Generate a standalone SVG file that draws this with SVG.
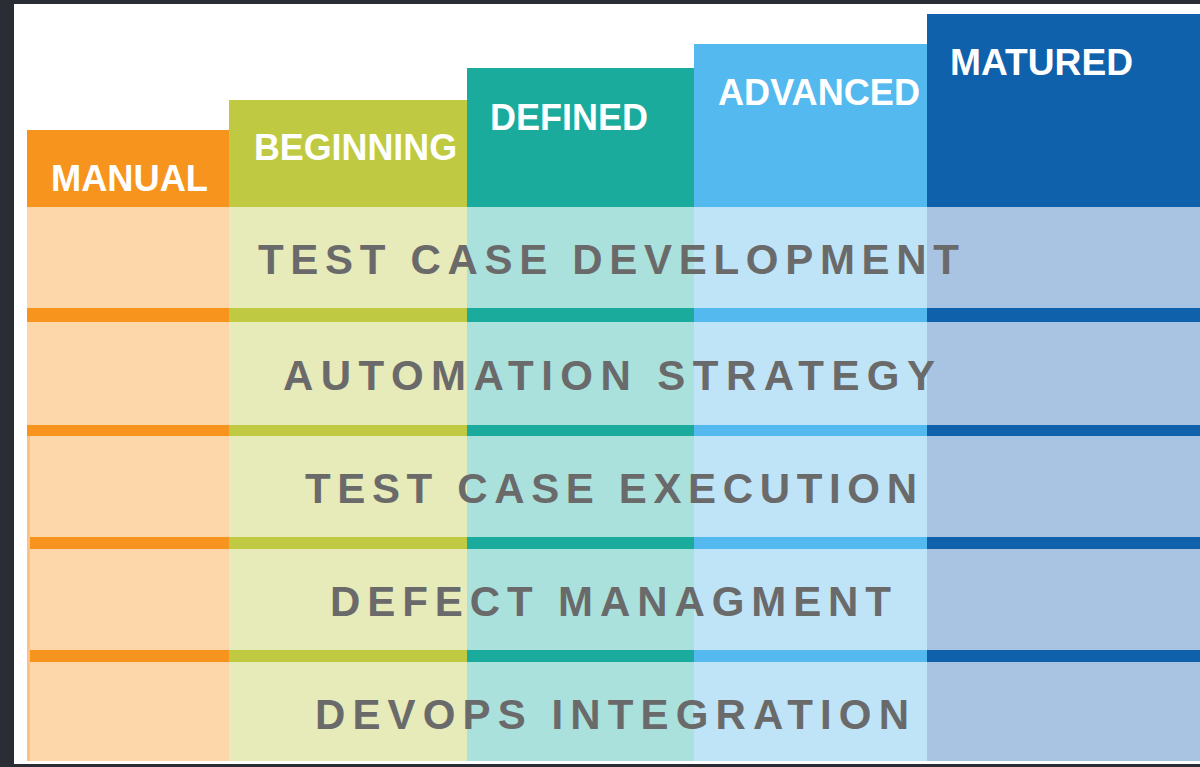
<svg xmlns="http://www.w3.org/2000/svg" width="1200" height="767" viewBox="0 0 1200 767">
  <style>
    .hdr { font-family: "Liberation Sans", Arial, sans-serif; font-weight: bold; font-size: 36px; fill: #ffffff; }
    .row { font-family: "Liberation Sans", Arial, sans-serif; font-weight: bold; font-size: 42px; fill: #6a6a6a; }
  </style>
  <rect x="0" y="0" width="1200" height="767" fill="#2a2d33"/>
  <rect x="14" y="4" width="1186" height="760" fill="#ffffff"/>

  <g id="col-manual">
    <rect x="27" y="207" width="202" height="554" fill="#fdd7a9"/>
    <rect x="27" y="130" width="202" height="77" fill="#f7941e"/>
    <rect x="27" y="308" width="202" height="14" fill="#f7941e"/>
    <rect x="27" y="425" width="202" height="11" fill="#f7941e"/>
    <rect x="27" y="537" width="202" height="12" fill="#f7941e"/>
    <rect x="27" y="650" width="202" height="12" fill="#f7941e"/>
    <rect x="27" y="436" width="3" height="325" fill="#fbc185"/>
    <text class="hdr" x="51" y="191" textLength="157" lengthAdjust="spacingAndGlyphs">MANUAL</text>
  </g>

  <g id="col-beginning">
    <rect x="229" y="207" width="238" height="554" fill="#e6ebb9"/>
    <rect x="229" y="100" width="238" height="107" fill="#bfca42"/>
    <rect x="229" y="308" width="238" height="14" fill="#bfca42"/>
    <rect x="229" y="425" width="238" height="11" fill="#bfca42"/>
    <rect x="229" y="537" width="238" height="12" fill="#bfca42"/>
    <rect x="229" y="650" width="238" height="12" fill="#bfca42"/>
    <text class="hdr" x="254" y="160" textLength="203" lengthAdjust="spacingAndGlyphs">BEGINNING</text>
  </g>

  <g id="col-defined">
    <rect x="467" y="207" width="227" height="554" fill="#aae1dd"/>
    <rect x="467" y="68" width="227" height="139" fill="#1aab9c"/>
    <rect x="467" y="308" width="227" height="14" fill="#1aab9c"/>
    <rect x="467" y="425" width="227" height="11" fill="#1aab9c"/>
    <rect x="467" y="537" width="227" height="12" fill="#1aab9c"/>
    <rect x="467" y="650" width="227" height="12" fill="#1aab9c"/>
    <text class="hdr" x="490" y="130" textLength="158" lengthAdjust="spacingAndGlyphs">DEFINED</text>
  </g>

  <g id="col-advanced">
    <rect x="694" y="207" width="233" height="554" fill="#bfe4f7"/>
    <rect x="694" y="44" width="233" height="163" fill="#53b9ee"/>
    <rect x="694" y="308" width="233" height="14" fill="#53b9ee"/>
    <rect x="694" y="425" width="233" height="11" fill="#53b9ee"/>
    <rect x="694" y="537" width="233" height="12" fill="#53b9ee"/>
    <rect x="694" y="650" width="233" height="12" fill="#53b9ee"/>
    <text class="hdr" x="718" y="105" textLength="202" lengthAdjust="spacingAndGlyphs">ADVANCED</text>
  </g>

  <g id="col-matured">
    <rect x="927" y="207" width="273" height="554" fill="#a8c4e2"/>
    <rect x="927" y="14" width="273" height="193" fill="#0f61ac"/>
    <rect x="927" y="308" width="273" height="14" fill="#0f61ac"/>
    <rect x="927" y="425" width="273" height="11" fill="#0f61ac"/>
    <rect x="927" y="537" width="273" height="12" fill="#0f61ac"/>
    <rect x="927" y="650" width="273" height="12" fill="#0f61ac"/>
    <text class="hdr" x="950" y="75" textLength="183" lengthAdjust="spacingAndGlyphs">MATURED</text>
  </g>

  <g id="row-test-case-development">
    <text class="row" x="258" y="274" textLength="701" lengthAdjust="spacing">TEST CASE DEVELOPMENT</text>
  </g>
  <g id="row-automation-strategy">
    <text class="row" x="283" y="390" textLength="652" lengthAdjust="spacing">AUTOMATION STRATEGY</text>
  </g>
  <g id="row-test-case-execution">
    <text class="row" x="305" y="503" textLength="612" lengthAdjust="spacing">TEST CASE EXECUTION</text>
  </g>
  <g id="row-defect-managment">
    <text class="row" x="330" y="616" textLength="561" lengthAdjust="spacing">DEFECT MANAGMENT</text>
  </g>
  <g id="row-devops-integration">
    <text class="row" x="315" y="729" textLength="594" lengthAdjust="spacing">DEVOPS INTEGRATION</text>
  </g>
</svg>
